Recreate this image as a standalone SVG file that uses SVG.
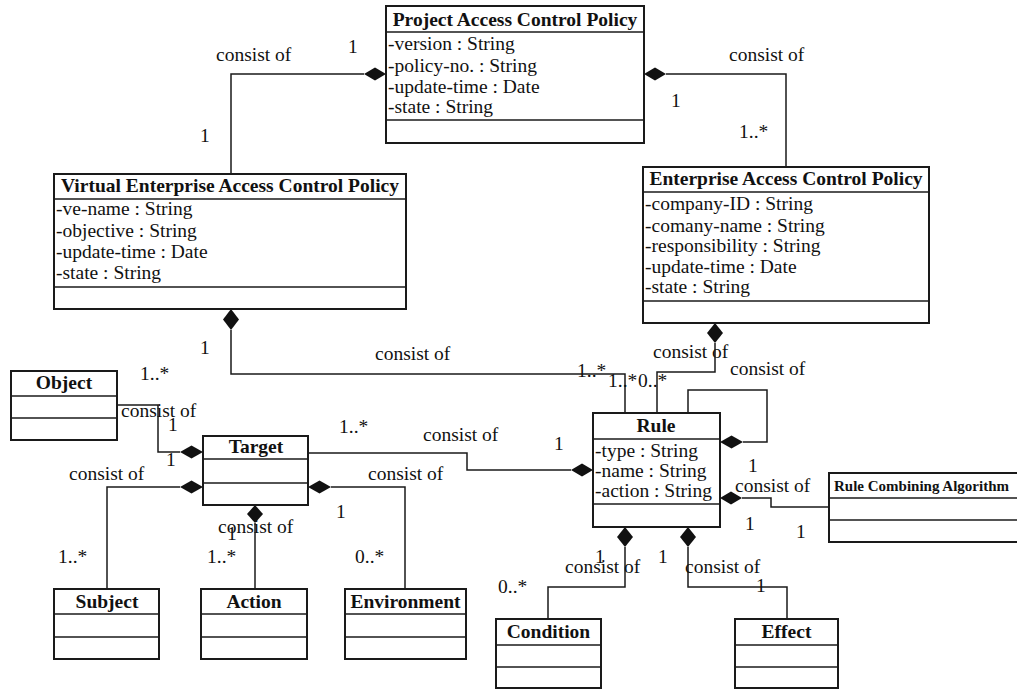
<svg xmlns="http://www.w3.org/2000/svg" width="1017" height="689" viewBox="0 0 1017 689">
  <style>
    .box { fill: #fff; stroke: #1a1a1a; stroke-width: 2; }
    .sep { stroke: #1a1a1a; stroke-width: 1.6; }
    .conn { fill: none; stroke: #1a1a1a; stroke-width: 1.5; }
    .dia { fill: #111; stroke: none; }
    text { font-family: "Liberation Serif", "Times New Roman", serif; font-size: 19.5px; fill: #111; }
    .hd { font-weight: bold; text-anchor: middle; }
    .hd-sm { font-weight: bold; font-size: 15px; }
  </style>

  <rect width="1017" height="689" fill="#fff"/>

  <!-- connectors (composition lines, diamonds, labels and multiplicities) -->
  <g id="connectors">
    <polyline class="conn" points="364,74 231,74 231,174"/>
    <polyline class="conn" points="666,74 786,74 786,167"/>
    <polyline class="conn" points="231,330 231,374 625,374 625,413"/>
    <polyline class="conn" points="715,343 715,372 657,372 657,413"/>
    <polyline class="conn" points="688,413 688,390 767,390 767,442 743,442"/>
    <polyline class="conn" points="571,470 467,470 467,453 308,453"/>
    <polyline class="conn" points="742,498 771,498 771,507 829,507"/>
    <polyline class="conn" points="625,547 625,587 548,587 548,619"/>
    <polyline class="conn" points="688,547 688,587 787,587 787,619"/>
    <polyline class="conn" points="117,405 158,405 158,452 180,452"/>
    <polyline class="conn" points="180,487 107,487 107,589"/>
    <polyline class="conn" points="331,487 405,487 405,589"/>
    <polyline class="conn" points="255,523 255,589"/>

    <!-- horizontal diamonds -->
    <polygon class="dia" points="364,74 375,67.5 386,74 375,80.5"/>
    <polygon class="dia" points="644,74 655,67.5 666,74 655,80.5"/>
    <polygon class="dia" points="720,442 731.5,435.5 743,442 731.5,448.5"/>
    <polygon class="dia" points="571,470 582,463.5 593,470 582,476.5"/>
    <polygon class="dia" points="720,498 731,491.5 742,498 731,504.5"/>
    <polygon class="dia" points="180,452 191.5,445.5 203,452 191.5,458.5"/>
    <polygon class="dia" points="180,487 191.5,480.5 203,487 191.5,493.5"/>
    <polygon class="dia" points="308,487 319.5,480.5 331,487 319.5,493.5"/>
    <!-- vertical diamonds -->
    <polygon class="dia" points="231,309 239,319.5 231,330 223,319.5"/>
    <polygon class="dia" points="715,323 723,333 715,343 707,333"/>
    <polygon class="dia" points="625,527 633,537 625,547 617,537"/>
    <polygon class="dia" points="688,527 696,537 688,547 680,537"/>
    <polygon class="dia" points="255,505 263,514 255,523 247,514"/>

    <!-- labels -->
    <text x="216" y="61">consist of</text>
    <text x="348" y="53">1</text>
    <text x="200" y="142">1</text>
    <text x="729" y="61">consist of</text>
    <text x="671" y="107">1</text>
    <text x="739" y="138">1..*</text>

    <text x="200" y="354">1</text>
    <text x="375" y="360">consist of</text>
    <text x="577" y="377">1..*</text>
    <text x="608" y="387">1..*</text>
    <text x="638" y="387">0..*</text>
    <text x="653" y="358">consist of</text>
    <text x="730" y="375">consist of</text>

    <text x="339" y="433">1..*</text>
    <text x="423" y="441">consist of</text>
    <text x="554" y="450">1</text>
    <text x="748" y="472">1</text>
    <text x="735" y="492">consist of</text>
    <text x="745" y="530">1</text>
    <text x="796" y="538">1</text>

    <text x="595" y="563">1</text>
    <text x="565" y="573">consist of</text>
    <text x="498" y="593">0..*</text>
    <text x="658" y="563">1</text>
    <text x="685" y="573">consist of</text>
    <text x="756" y="592">1</text>

    <text x="140" y="380">1..*</text>
    <text x="121" y="417">consist of</text>
    <text x="168" y="431">1</text>
    <text x="166" y="466">1</text>
    <text x="69" y="480">consist of</text>
    <text x="58" y="563">1..*</text>
    <text x="368" y="480">consist of</text>
    <text x="336" y="518">1</text>
    <text x="355" y="563">0..*</text>
    <text x="218" y="533">consist of</text>
    <text x="227" y="540">1</text>
    <text x="207" y="563">1..*</text>
  </g>

  <g id="project-policy">
    <rect class="box" x="386" y="6" width="258" height="137"/>
    <line class="sep" x1="386" y1="32" x2="644" y2="32"/>
    <line class="sep" x1="386" y1="120" x2="644" y2="120"/>
    <text class="hd" x="515" y="26">Project Access Control Policy</text>
    <text x="388" y="50">-version : String</text>
    <text x="388" y="72">-policy-no. : String</text>
    <text x="388" y="93">-update-time : Date</text>
    <text x="388" y="113">-state : String</text>
  </g>

  <g id="ve-policy">
    <rect class="box" x="54" y="174" width="352" height="135"/>
    <line class="sep" x1="54" y1="199" x2="406" y2="199"/>
    <line class="sep" x1="54" y1="287" x2="406" y2="287"/>
    <text class="hd" x="230" y="192">Virtual Enterprise Access Control Policy</text>
    <text x="56" y="215">-ve-name : String</text>
    <text x="56" y="237">-objective : String</text>
    <text x="56" y="258">-update-time : Date</text>
    <text x="56" y="279">-state : String</text>
  </g>

  <g id="enterprise-policy">
    <rect class="box" x="643" y="167" width="286" height="156"/>
    <line class="sep" x1="643" y1="192" x2="929" y2="192"/>
    <line class="sep" x1="643" y1="301" x2="929" y2="301"/>
    <text class="hd" x="786" y="185">Enterprise Access Control Policy</text>
    <text x="645" y="210">-company-ID : String</text>
    <text x="645" y="232">-comany-name : String</text>
    <text x="645" y="252">-responsibility : String</text>
    <text x="645" y="273">-update-time : Date</text>
    <text x="645" y="293">-state : String</text>
  </g>

  <g id="rule">
    <rect class="box" x="593" y="413" width="127" height="114"/>
    <line class="sep" x1="593" y1="439" x2="720" y2="439"/>
    <line class="sep" x1="593" y1="504" x2="720" y2="504"/>
    <text class="hd" x="656" y="432">Rule</text>
    <text x="595" y="457">-type : String</text>
    <text x="595" y="477">-name : String</text>
    <text x="595" y="497">-action : String</text>
  </g>

  <g id="rule-combining-algorithm">
    <rect class="box" x="829" y="473" width="200" height="69"/>
    <line class="sep" x1="829" y1="498" x2="1029" y2="498"/>
    <line class="sep" x1="829" y1="520" x2="1029" y2="520"/>
    <text class="hd-sm" x="834" y="491">Rule Combining Algorithm</text>
  </g>

  <g id="object">
    <rect class="box" x="11" y="371" width="106" height="69"/>
    <line class="sep" x1="11" y1="396" x2="117" y2="396"/>
    <line class="sep" x1="11" y1="418" x2="117" y2="418"/>
    <text class="hd" x="64" y="389">Object</text>
  </g>

  <g id="target">
    <rect class="box" x="203" y="436" width="105" height="69"/>
    <line class="sep" x1="203" y1="459" x2="308" y2="459"/>
    <line class="sep" x1="203" y1="483" x2="308" y2="483"/>
    <text class="hd" x="256" y="453">Target</text>
  </g>

  <g id="subject">
    <rect class="box" x="54" y="589" width="105" height="70"/>
    <line class="sep" x1="54" y1="614" x2="159" y2="614"/>
    <line class="sep" x1="54" y1="637" x2="159" y2="637"/>
    <text class="hd" x="107" y="608">Subject</text>
  </g>

  <g id="action">
    <rect class="box" x="201" y="589" width="106" height="70"/>
    <line class="sep" x1="201" y1="614" x2="307" y2="614"/>
    <line class="sep" x1="201" y1="637" x2="307" y2="637"/>
    <text class="hd" x="254" y="608">Action</text>
  </g>

  <g id="environment">
    <rect class="box" x="345" y="589" width="121" height="70"/>
    <line class="sep" x1="345" y1="614" x2="466" y2="614"/>
    <line class="sep" x1="345" y1="637" x2="466" y2="637"/>
    <text class="hd" x="405.5" y="608">Environment</text>
  </g>

  <g id="condition">
    <rect class="box" x="496" y="619" width="105" height="69"/>
    <line class="sep" x1="496" y1="645" x2="601" y2="645"/>
    <line class="sep" x1="496" y1="667" x2="601" y2="667"/>
    <text class="hd" x="548.5" y="638">Condition</text>
  </g>

  <g id="effect">
    <rect class="box" x="735" y="619" width="103" height="69"/>
    <line class="sep" x1="735" y1="645" x2="838" y2="645"/>
    <line class="sep" x1="735" y1="667" x2="838" y2="667"/>
    <text class="hd" x="786.5" y="638">Effect</text>
  </g>
</svg>
